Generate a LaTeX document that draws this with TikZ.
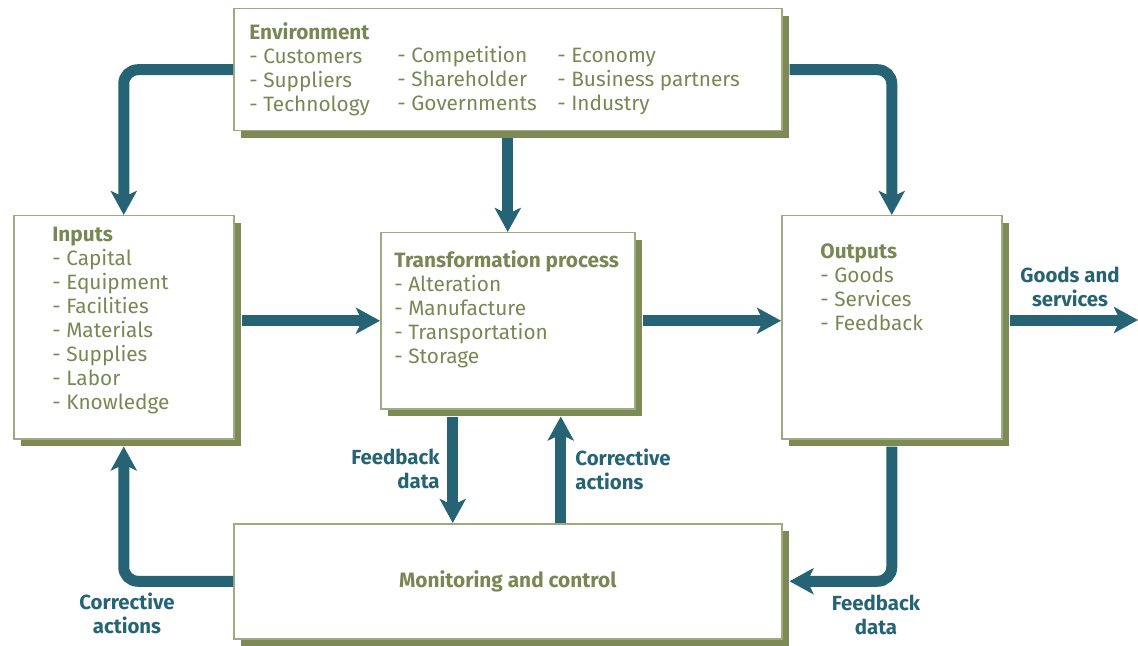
\documentclass[tikz,border=0pt]{standalone}
\usepackage{fontspec}
\setmainfont{Fira Sans}
\usepackage{tikz}
\usetikzlibrary{arrows.meta, shadows}
\definecolor{olivetext}{RGB}{122,135,84}
\definecolor{oliveline}{RGB}{160,170,128}
\definecolor{oliveshade}{RGB}{126,138,85}
\definecolor{tealflow}{RGB}{38,100,117}
\tikzstyle{box} = [rectangle, draw=oliveline, line width=0.75pt, fill=white, anchor=north west, inner sep=0pt, general shadow={fill=oliveshade, shadow xshift=3.5pt, shadow yshift=-3.5pt}]
\tikzstyle{list} = [anchor=north west, align=left, inner sep=0pt, text=olivetext, font=\fontsize{10.4}{12}\selectfont]
\tikzstyle{flow} = [line width=5.5pt, draw=tealflow, rounded corners=7pt, -{Stealth[width=13pt,length=12pt,inset=3pt]}]
\tikzstyle{flowlabel} = [align=center, text=tealflow, inner sep=0pt, font=\fontsize{10.2}{12}\selectfont\bfseries]

\begin{document}
\begin{tikzpicture}[x=0.5pt, y=-0.5pt]
\useasboundingbox (0,0) rectangle (1138,646);
% boxes
\node (env) [box, minimum width=274pt, minimum height=61pt] at (233,8) {};
\node (inputs) [box, minimum width=110pt, minimum height=111.5pt] at (13,215) {};
\node (trans) [box, minimum width=127pt, minimum height=88pt] at (380,232) {};
\node (outputs) [box, minimum width=110pt, minimum height=111.5pt] at (781,215) {};
\node (mon) [box, minimum width=274pt, minimum height=57.5pt, text=olivetext, font=\fontsize{10.4}{12}\selectfont\bfseries] at (233,523) {Monitoring and control};
% box texts
\node (envcol1) [list] at (249,22) {\textbf{Environment}\\- Customers\\- Suppliers\\- Technology};
\node (envcol2) [list] at (397,46) {- Competition\\- Shareholder\\- Governments};
\node (envcol3) [list] at (557,48) {- Economy\\- Business partners\\- Industry};
\node (intext) [list] at (52,227) {\textbf{Inputs}\\- Capital\\- Equipment\\- Facilities\\- Materials\\- Supplies\\- Labor\\- Knowledge};
\node (transtext) [list] at (394,250) {\textbf{Transformation process}\\- Alteration\\- Manufacture\\- Transportation\\- Storage};
\node (outtext) [list] at (820,243) {\textbf{Outputs}\\- Goods\\- Services\\- Feedback};
% connectors
\coordinate (out) at (1138,320);
\coordinate (fbtop) at ([xshift=-27.5pt]trans.south);
\coordinate (cotop) at ([xshift=26.5pt]trans.south);
\draw [flow] (env.west) -| (inputs.north);
\draw [flow, shorten <=3.5pt] (env.east) -| (outputs.north);
\draw [flow, shorten <=3.5pt] (env.south) -- (trans.north);
\draw [flow, shorten <=3.5pt] (inputs.east |- trans.west) -- (trans.west);
\draw [flow, shorten <=3.5pt] (trans.east) -- (outputs.west |- trans.east);
\draw [flow, shorten <=3.5pt] (outputs.east |- out) -- (out);
\draw [flow, shorten <=3.5pt] (fbtop) -- (fbtop |- mon.north);
\draw [flow, shorten >=3.5pt] (cotop |- mon.north) -- (cotop);
\draw [flow, shorten >=3.5pt] (mon.west) -| (inputs.south);
\draw [flow, shorten <=3.5pt, shorten >=3.5pt] (outputs.south) |- (mon.east);
% connector labels
\node (goodslabel) [flowlabel] at (1070,287) {Goods and\\services};
\node (fblabel) [flowlabel, anchor=east, align=right] at (440,469) {Feedback\\data};
\node (colabel) [flowlabel, anchor=west, align=left] at (575,469) {Corrective\\actions};
\node (colabel2) [flowlabel] at (127,613) {Corrective\\actions};
\node (fblabel2) [flowlabel] at (876,615) {Feedback\\data};
\end{tikzpicture}
\end{document}
